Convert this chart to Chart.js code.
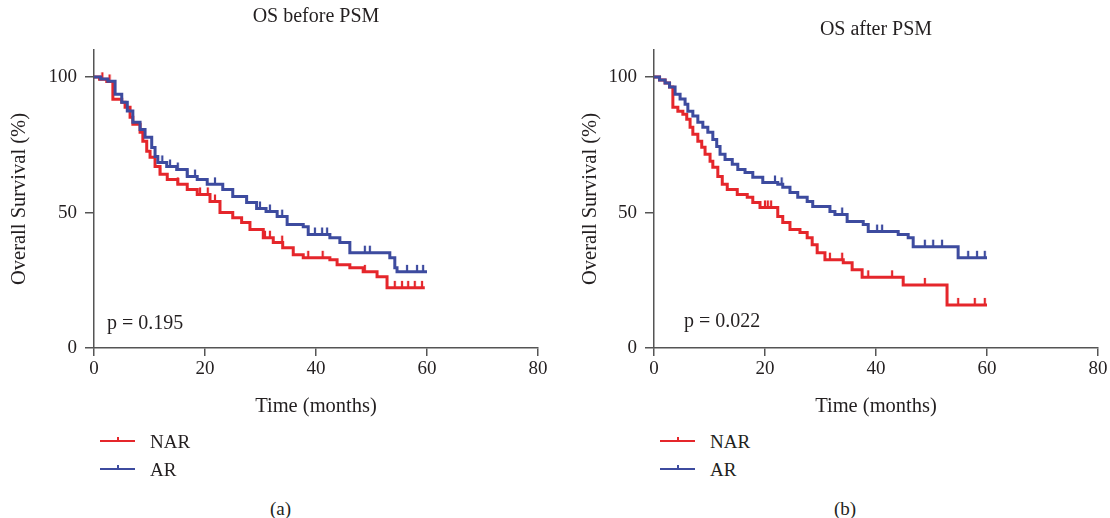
<!DOCTYPE html>
<html>
<head>
<meta charset="utf-8">
<script src="https://cdn.jsdelivr.net/npm/chart.js@4.4.0/dist/chart.umd.min.js"></script>
<style>
  body { margin: 0; background: #fff; }
  #wrap { position: relative; width: 1110px; height: 518px; font-family: "Liberation Serif", "DejaVu Serif", serif; color: #231f20; }
  .panel { position: absolute; top: 0; height: 420px; }
  .txt { position: absolute; font-size: 19px; white-space: nowrap; line-height: 1; }
  .leg { position: absolute; width: 35px; height: 0; border-top: 2px solid; }
  .leg i { position: absolute; left: 17px; top: -5px; width: 1.5px; height: 4px; }
</style>
</head>
<body>
<div id="wrap">
  <div class="panel" style="left:0;width:560px"><canvas id="chartA"></canvas></div>
  <div class="panel" style="left:560px;width:550px"><canvas id="chartB"></canvas></div>

  <div class="txt" style="left:107px;top:312px;font-size:20px">p = 0.195</div>
  <div class="txt" style="left:684px;top:310px;font-size:20px">p = 0.022</div>

  <div class="leg" style="left:100px;top:440px;border-color:#e5262b"><i style="background:#e5262b"></i></div>
  <div class="txt" style="left:150px;top:432px">NAR</div>
  <div class="leg" style="left:100px;top:468px;border-color:#3d4b9f"><i style="background:#3d4b9f"></i></div>
  <div class="txt" style="left:150px;top:460px">AR</div>

  <div class="leg" style="left:660px;top:440px;border-color:#e5262b"><i style="background:#e5262b"></i></div>
  <div class="txt" style="left:710px;top:432px">NAR</div>
  <div class="leg" style="left:660px;top:468px;border-color:#3d4b9f"><i style="background:#3d4b9f"></i></div>
  <div class="txt" style="left:710px;top:460px">AR</div>

  <div class="txt" style="left:270px;top:499px">(a)</div>
  <div class="txt" style="left:834px;top:499px">(b)</div>
</div>
<script>
// tick labels
const xTicks = [0, 20, 40, 60, 80];
const yTicks = [0, 50, 100];

// (a) OS before PSM
const narBeforeT = [0, 1.0, 2.3, 3.4, 5.0, 5.6, 6.5, 7.0, 8.3, 8.8, 9.5, 10.1, 11.0, 11.9, 13.2, 15.1, 16.8, 18.6, 20.9, 22.7, 25.0, 26.6, 28.1, 30.5, 32.3, 34.0, 35.9, 37.7, 42.5, 43.8, 46.1, 48.5, 51.0, 52.8, 59.6];
const narBeforeS = [100, 99.2, 98.4, 91.8, 90.7, 88.9, 85.2, 82.6, 79.6, 76.3, 72.6, 70.4, 67.0, 64.1, 62.2, 60.4, 58.5, 56.7, 54.1, 50.0, 48.1, 46.3, 43.7, 40.7, 38.9, 37.0, 34.4, 33.3, 32.6, 30.7, 29.6, 28.1, 26.3, 22.2, 22.2];
const narBeforeCens = [1.5, 2.8, 11.9, 15.1, 19.1, 20.5, 21.8, 30.8, 31.7, 33.9, 38.6, 41.2, 48.8, 54.2, 55.5, 56.6, 57.8, 59.1];

const arBeforeT = [0, 1.2, 2.5, 3.8, 5.0, 6.0, 7.0, 8.3, 9.2, 10.4, 11.0, 11.5, 13.1, 14.9, 16.8, 18.6, 20.4, 23.2, 25.0, 27.5, 29.3, 31.0, 33.0, 34.8, 37.7, 38.6, 42.5, 44.3, 46.1, 53.3, 54.2, 54.6, 60.0];
const arBeforeS = [100, 99.3, 98.5, 93.7, 90.7, 87.5, 83.3, 80.7, 77.8, 74.0, 70.7, 68.5, 67.0, 65.9, 63.3, 62.2, 60.4, 58.5, 55.9, 53.7, 51.5, 50.4, 48.5, 45.6, 44.8, 41.9, 40.7, 38.9, 35.2, 33.3, 29.6, 28.1, 28.1];
const arBeforeCens = [12.3, 13.7, 15.1, 16.8, 18.2, 21.8, 29.9, 31.7, 33.9, 39.8, 41.1, 42.0, 48.8, 49.7, 56.4, 58.2, 59.3];

// (b) OS after PSM
const narAfterT = [0, 1.0, 2.0, 2.8, 3.4, 4.3, 5.2, 5.9, 6.5, 7.0, 7.9, 8.6, 9.2, 10.1, 10.6, 11.5, 12.3, 13.2, 15.0, 16.8, 17.8, 19.1, 22.3, 23.2, 24.5, 26.3, 27.6, 28.5, 29.4, 30.8, 34.1, 35.7, 37.5, 44.9, 52.8, 60.0];
const narAfterS = [100, 98.9, 97.8, 96.3, 88.9, 87.4, 86.3, 84.4, 81.5, 78.9, 76.3, 74.1, 71.5, 68.9, 66.7, 63.3, 60.4, 58.5, 56.7, 55.6, 53.7, 51.9, 48.5, 46.3, 43.7, 42.6, 40.7, 38.1, 35.2, 32.6, 31.5, 28.9, 26.1, 23.3, 15.9, 15.9];
const narAfterCens = [20.0, 20.5, 21.1, 31.7, 33.9, 38.6, 42.9, 48.8, 54.8, 57.8, 59.6];

const arAfterT = [0, 1.0, 2.0, 2.8, 3.8, 4.7, 5.6, 6.1, 7.0, 7.9, 8.8, 9.7, 10.6, 11.3, 11.9, 12.8, 14.1, 15.1, 16.4, 17.8, 19.6, 22.3, 23.2, 24.5, 25.9, 27.6, 28.6, 31.7, 32.6, 34.8, 37.7, 38.6, 44.0, 45.8, 46.7, 54.8, 60.0];
const arAfterS = [100, 98.9, 97.8, 96.3, 93.7, 91.9, 90.0, 87.4, 85.6, 83.3, 81.5, 79.6, 77.0, 74.4, 71.5, 69.6, 67.8, 65.9, 64.8, 63.0, 61.1, 60.4, 59.3, 57.4, 55.6, 54.1, 52.2, 50.4, 49.3, 46.7, 45.6, 43.0, 41.9, 40.7, 37.4, 33.3, 33.3];
const arAfterCens = [21.8, 23.0, 33.9, 40.2, 41.1, 48.8, 50.3, 51.9, 56.6, 58.2, 59.6];

const RED = '#e5262b';
const BLUE = '#3d4b9f';
const AXIS = '#555';
const FAMILY = '"Liberation Serif", "DejaVu Serif", serif';
const TICK_FONT = { family: FAMILY, size: 19 };
const LABEL_FONT = { family: FAMILY, size: 20.5 };

// survival value of a step curve at time t (for placing censor marks)
function survivalAt(T, S, t) {
  let v = S[0];
  for (let i = 0; i < T.length; i++) { if (T[i] <= t) v = S[i]; }
  return v;
}

// small upward tick used as censor mark
function censorMark(color) {
  const c = document.createElement('canvas');
  c.width = 4; c.height = 16;
  const g = c.getContext('2d');
  g.strokeStyle = color; g.lineWidth = 2.2;
  g.beginPath(); g.moveTo(2, 1); g.lineTo(2, 8); g.stroke();
  return c;
}

function curve(T, S, color) {
  return {
    data: T.map((t, i) => ({ x: t, y: S[i] })),
    showLine: true, stepped: 'before', borderColor: color, borderWidth: 3,
    pointRadius: 0, fill: false
  };
}

function censors(T, S, cens, color) {
  return {
    data: cens.map(t => ({ x: t, y: survivalAt(T, S, t) })),
    showLine: false, pointStyle: censorMark(color), pointRadius: 4
  };
}

function makePanel(id, title, tTop, tBottom, padRight, yTitlePad, sets) {
  new Chart(document.getElementById(id), {
    type: 'scatter',
    data: { datasets: sets },
    options: {
      responsive: true, maintainAspectRatio: false, animation: false, events: [],
      layout: { padding: { top: 0, right: padRight, bottom: 0, left: 0 } },
      plugins: {
        legend: { display: false }, tooltip: { enabled: false },
        title: { display: true, text: title, fullSize: false, color: '#231f20',
                 font: { family: FAMILY, size: 20, weight: 'normal' },
                 padding: { top: tTop, bottom: tBottom } }
      },
      scales: {
        x: {
          type: 'linear', min: 0, max: 80,
          afterBuildTicks: s => { s.ticks = xTicks.map(v => ({ value: v })); },
          afterFit: s => { s.height = 72; },
          ticks: { color: '#231f20', font: TICK_FONT, padding: 2, maxRotation: 0 },
          grid: { drawOnChartArea: false, drawTicks: true, tickLength: 8, color: AXIS, lineWidth: 1.5 },
          border: { display: true, color: AXIS, width: 1.5 },
          title: { display: true, text: 'Time (months)', color: '#231f20', font: LABEL_FONT, padding: { top: 0, bottom: 0.7 } }
        },
        y: {
          type: 'linear', min: 0, max: 110,
          afterBuildTicks: s => { s.ticks = yTicks.map(v => ({ value: v })); },
          afterFit: s => { s.width = 94; },
          ticks: { color: '#231f20', font: TICK_FONT, padding: 8 },
          grid: { drawOnChartArea: false, drawTicks: true, tickLength: 9, color: AXIS, lineWidth: 1.5 },
          border: { display: true, color: AXIS, width: 1.5 },
          title: { display: true, text: 'Overall Survival (%)', color: '#231f20', font: LABEL_FONT, padding: { top: yTitlePad, bottom: 0 } }
        }
      }
    }
  });
}

makePanel('chartA', 'OS before PSM', 5, 21, 22, 7.7, [
  curve(arBeforeT, arBeforeS, BLUE),
  censors(arBeforeT, arBeforeS, arBeforeCens, BLUE),
  curve(narBeforeT, narBeforeS, RED),
  censors(narBeforeT, narBeforeS, narBeforeCens, RED)
]);

makePanel('chartB', 'OS after PSM', 18, 8, 12, 18.7, [
  curve(arAfterT, arAfterS, BLUE),
  censors(arAfterT, arAfterS, arAfterCens, BLUE),
  curve(narAfterT, narAfterS, RED),
  censors(narAfterT, narAfterS, narAfterCens, RED)
]);
</script>
</body>
</html>
